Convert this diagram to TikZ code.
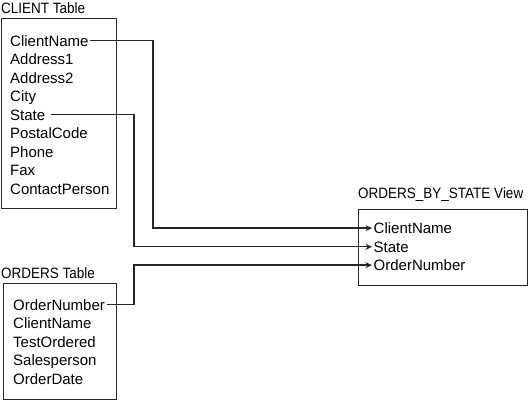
\documentclass[tikz,border=0pt]{standalone}
\usepackage{fontspec}
\setmainfont{Liberation Sans}
\newfontfamily\titlefont[FakeStretch=0.9]{Liberation Sans}
\usetikzlibrary{arrows.meta,calc}
\tikzset{
  tbl/.style={draw=black!85,line width=1.4pt,inner sep=0pt,anchor=north west}, % table box
  ttl/.style={anchor=base west,inner sep=0pt,font=\titlefont\fontsize{15}{18}\selectfont},
  fld/.style={anchor=base west,inner sep=1.5pt,font=\fontsize{15}{18}\selectfont},
  link/.style={black!85,line width=1.3pt},
  lnk/.style={link,-{Stealth[length=6.5pt,width=6pt]}},
}

\begin{document}
\begin{tikzpicture}[x=1pt,y=-1pt]
  \useasboundingbox (0,0) rectangle (528,400);
  % CLIENT table
  \node[ttl] (client-title) at (1,13) {CLIENT Table};
  \node[tbl,minimum width=115pt,minimum height=190pt] (client) at (1,18) {};
  \foreach \f [count=\i] in {ClientName,Address1,Address2,City,State,PostalCode,Phone,Fax,ContactPerson}
    \node[fld] (client-\f) at (8.5,27.5+18.5*\i) {\f};
  % ORDERS table
  \node[ttl] (orders-title) at (1,278) {ORDERS Table};
  \node[tbl,minimum width=113pt,minimum height=116pt] (orders) at (3,283) {};
  \foreach \f [count=\i] in {OrderNumber,ClientName,TestOrdered,Salesperson,OrderDate}
    \node[fld] (orders-\f) at (11.5,291.5+18.5*\i) {\f};
  % the view
  \node[ttl] (view-title) at (358,198) {ORDERS\_BY\_STATE View};
  \node[tbl,minimum width=169pt,minimum height=76pt] (view) at (358,209) {};
  \foreach \f [count=\i] in {ClientName,State,OrderNumber}
    \node[fld] (view-\f) at (372,215+18.5*\i) {\f};
  % connectors
  \coordinate (busA) at (153,0);
  \coordinate (busB) at (134,0);
  \draw[lnk] (client-ClientName.east) -- (client-ClientName.east -| busA) |- (view-ClientName.west);
  \draw[lnk] ([xshift=4pt]client-State.east) -- (client-State.east -| busB) |- (view-State.west);
  \draw[lnk] (orders-OrderNumber.east) -- (orders-OrderNumber.east -| busB) |- (view-OrderNumber.west);
\end{tikzpicture}
\end{document}
